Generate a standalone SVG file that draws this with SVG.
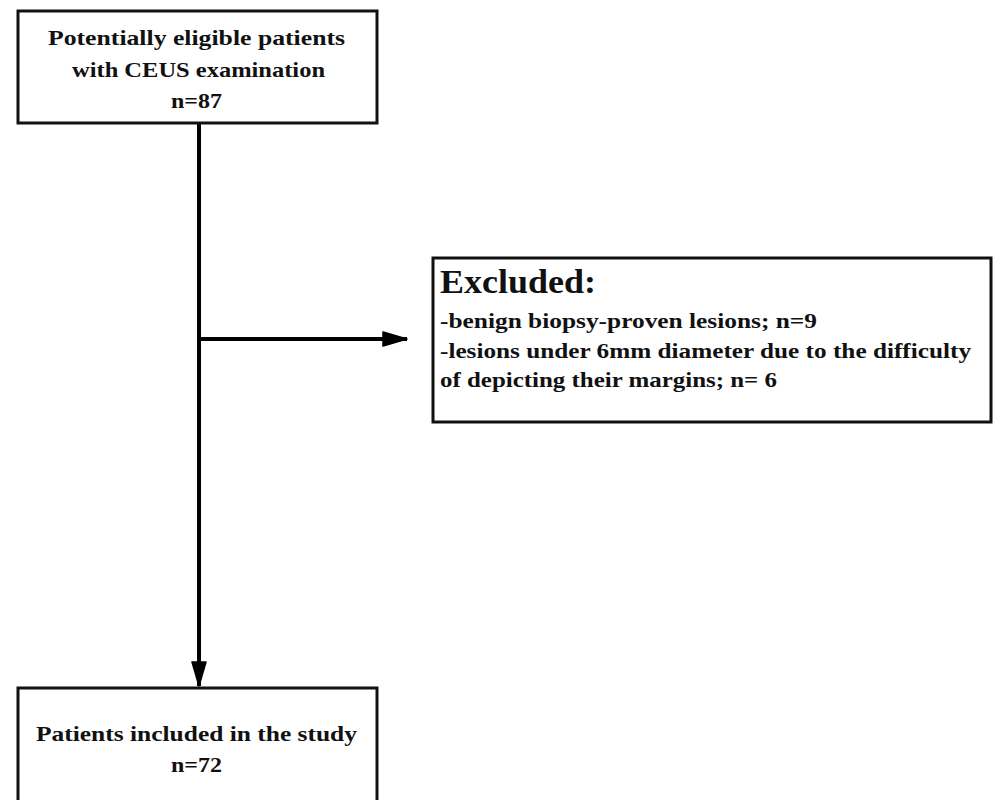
<svg xmlns="http://www.w3.org/2000/svg" width="993" height="800" viewBox="0 0 993 800">
<style>
.box{fill:#fff;stroke:#111;stroke-width:3}
.t{font-family:"Liberation Serif","DejaVu Serif",serif;font-weight:bold;font-size:22px;fill:#111}
.c{text-anchor:middle}
.big{font-size:34px}
.ln{stroke:#000;stroke-width:4;fill:none}
</style>
<defs>
<marker id="ah" markerUnits="userSpaceOnUse" markerWidth="28" markerHeight="18" refX="25" refY="8" orient="auto" viewBox="0 0 28 18">
<path d="M1,1 L25,8 L1,15 z" fill="#000" stroke="#000" stroke-width="1.5" stroke-linejoin="round"/>
</marker>
</defs>
<rect width="993" height="800" fill="#fff"/>
<g id="connectors">
<line class="ln" x1="199" y1="123" x2="199" y2="686" marker-end="url(#ah)"/>
<line class="ln" x1="199" y1="339" x2="407" y2="339" marker-end="url(#ah)"/>
</g>
<g id="node-eligible">
<rect class="box" x="18" y="11" width="359" height="112"/>
<text class="t c" x="196.5" y="45" textLength="297" lengthAdjust="spacingAndGlyphs">Potentially eligible patients</text>
<text class="t c" x="198.5" y="77" textLength="253" lengthAdjust="spacingAndGlyphs">with CEUS examination</text>
<text class="t c" x="196.5" y="108" textLength="51" lengthAdjust="spacingAndGlyphs">n=87</text>
</g>
<g id="node-excluded">
<rect class="box" x="433" y="258" width="558" height="164"/>
<text class="t big" x="440" y="293" textLength="156" lengthAdjust="spacingAndGlyphs">Excluded:</text>
<text class="t" x="440" y="328" textLength="377" lengthAdjust="spacingAndGlyphs">-benign biopsy-proven lesions; n=9</text>
<text class="t" x="440" y="358" textLength="531" lengthAdjust="spacingAndGlyphs">-lesions under 6mm diameter due to the difficulty</text>
<text class="t" x="440" y="387" textLength="337" lengthAdjust="spacingAndGlyphs">of depicting their margins; n= 6</text>
</g>
<g id="node-included">
<rect class="box" x="18" y="688" width="359" height="130"/>
<text class="t c" x="196.5" y="741" textLength="321" lengthAdjust="spacingAndGlyphs">Patients included in the study</text>
<text class="t c" x="196.5" y="772" textLength="51" lengthAdjust="spacingAndGlyphs">n=72</text>
</g>
</svg>
